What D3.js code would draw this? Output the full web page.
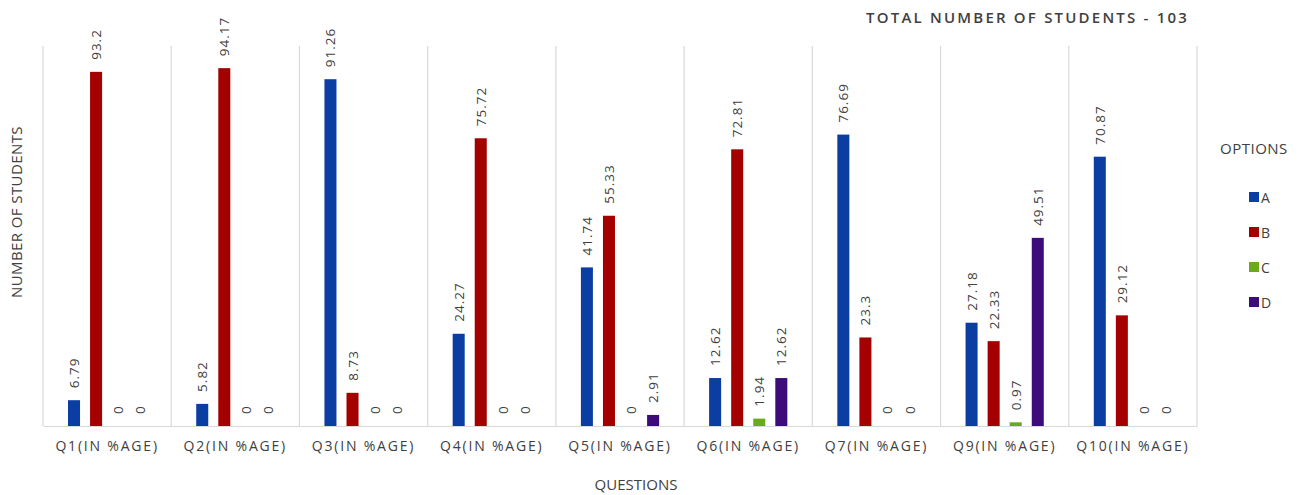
<!DOCTYPE html>
<html>
<head>
<meta charset="utf-8">
<script src="https://cdn.jsdelivr.net/npm/d3@7"></script>
<style>
  html, body { margin: 0; padding: 0; background: #fff; }
  svg { display: block; }
  text { font-family: "Open Sans", "Liberation Sans", sans-serif; fill: #404040; }
</style>
</head>
<body>
<svg id="chart" width="1300" height="495"></svg>
<script>
// Question categories and answer options
const questions = ["Q1(IN %AGE)", "Q2(IN %AGE)", "Q3(IN %AGE)", "Q4(IN %AGE)", "Q5(IN %AGE)",
                   "Q6(IN %AGE)", "Q7(IN %AGE)", "Q9(IN %AGE)", "Q10(IN %AGE)"];
const options = ["A", "B", "C", "D"];

// Percentage of students choosing each option, per question
const optionA = [6.79, 5.82, 91.26, 24.27, 41.74, 12.62, 76.69, 27.18, 70.87];
const optionB = [93.2, 94.17, 8.73, 75.72, 55.33, 72.81, 23.3, 22.33, 29.12];
const optionC = [0, 0, 0, 0, 0, 1.94, 0, 0.97, 0];
const optionD = [0, 0, 0, 0, 2.91, 12.62, 0, 49.51, 0];

const yTicks = [0, 100];
const colors = ["#0a3ea3", "#a50000", "#6aaa1c", "#3c0c7a"];

const series = [optionA, optionB, optionC, optionD];

const svg = d3.select("#chart");
const margin = { left: 43, right: 1197, top: 46, bottom: 426 };

const x0 = d3.scaleBand().domain(questions).range([margin.left, margin.right]).padding(0);
const x1 = d3.scaleBand().domain(options).range([25, x0.bandwidth() - 25]).paddingInner(0.455).paddingOuter(0);
const y = d3.scaleLinear().domain(d3.extent(yTicks)).range([margin.bottom, margin.top]);
const color = d3.scaleOrdinal().domain(options).range(colors);

// Vertical separators between question groups
const grid = svg.append("g");
const bounds = questions.map(q => x0(q)).concat([margin.right]);
grid.selectAll("line.sep").data(bounds).join("line")
  .attr("x1", d => d).attr("x2", d => d)
  .attr("y1", y(100)).attr("y2", y(0))
  .attr("stroke", "#d9d9d9").attr("stroke-width", 1.2);

// Baseline axis
const xAxis = svg.append("g")
  .attr("transform", `translate(0,${y(0)})`)
  .call(d3.axisBottom(x0).tickSize(0).tickPadding(15));
xAxis.select(".domain").attr("stroke", "#d9d9d9").attr("stroke-width", 1.2);
xAxis.selectAll("text")
  .style("font-family", '"Open Sans", sans-serif')
  .style("font-size", "14px")
  .style("letter-spacing", "1.8px")
  .attr("fill", "#333333");

// Bars and value labels
const rows = questions.map((q, i) => ({ q, vals: options.map((o, j) => ({ o, v: series[j][i] })) }));

const groups = svg.append("g").selectAll("g").data(rows).join("g")
  .attr("transform", d => `translate(${x0(d.q)},0)`);

groups.selectAll("rect").data(d => d.vals).join("rect")
  .attr("x", d => x1(d.o))
  .attr("width", x1.bandwidth())
  .attr("y", d => y(d.v))
  .attr("height", d => y(0) - y(d.v))
  .attr("fill", d => color(d.o));

groups.selectAll("text.val").data(d => d.vals).join("text")
  .attr("class", "val")
  .attr("transform", d => `translate(${x1(d.o) + x1.bandwidth() / 2 + 5},${y(d.v) - 12}) rotate(-90)`)
  .attr("text-anchor", "start")
  .style("font-size", "13.5px")
  .style("letter-spacing", "1px")
  .attr("fill", "#404040")
  .text(d => d.v);

// Axis titles
svg.append("text")
  .attr("transform", "translate(22,212) rotate(-90)")
  .attr("text-anchor", "middle")
  .style("font-size", "15px")
  .style("letter-spacing", "0.4px")
  .attr("fill", "#1a1a1a")
  .text("NUMBER OF STUDENTS");

svg.append("text")
  .attr("x", 636).attr("y", 490)
  .attr("text-anchor", "middle")
  .style("font-size", "15px")
  .attr("fill", "#1a1a1a")
  .text("QUESTIONS");

// Header note
svg.append("text")
  .attr("x", 1189).attr("y", 23)
  .attr("text-anchor", "end")
  .style("font-size", "15px")
  .style("font-weight", "600")
  .style("letter-spacing", "2.2px")
  .attr("fill", "#333333")
  .text("TOTAL NUMBER OF STUDENTS - 103");

// Legend
const legend = svg.append("g");
legend.append("text")
  .attr("x", 1220).attr("y", 154)
  .style("font-size", "15px")
  .style("letter-spacing", "0.5px")
  .attr("fill", "#404040")
  .text("OPTIONS");

const items = legend.selectAll("g.item").data(options).join("g")
  .attr("class", "item")
  .attr("transform", (d, i) => `translate(1249,${197 + i * 35})`);
items.append("rect")
  .attr("x", 0).attr("y", -5).attr("width", 10).attr("height", 10)
  .attr("fill", d => color(d));
items.append("text")
  .attr("x", 12).attr("y", 5.5)
  .style("font-size", "14px")
  .attr("fill", "#262626")
  .text(d => d);
</script>
</body>
</html>
